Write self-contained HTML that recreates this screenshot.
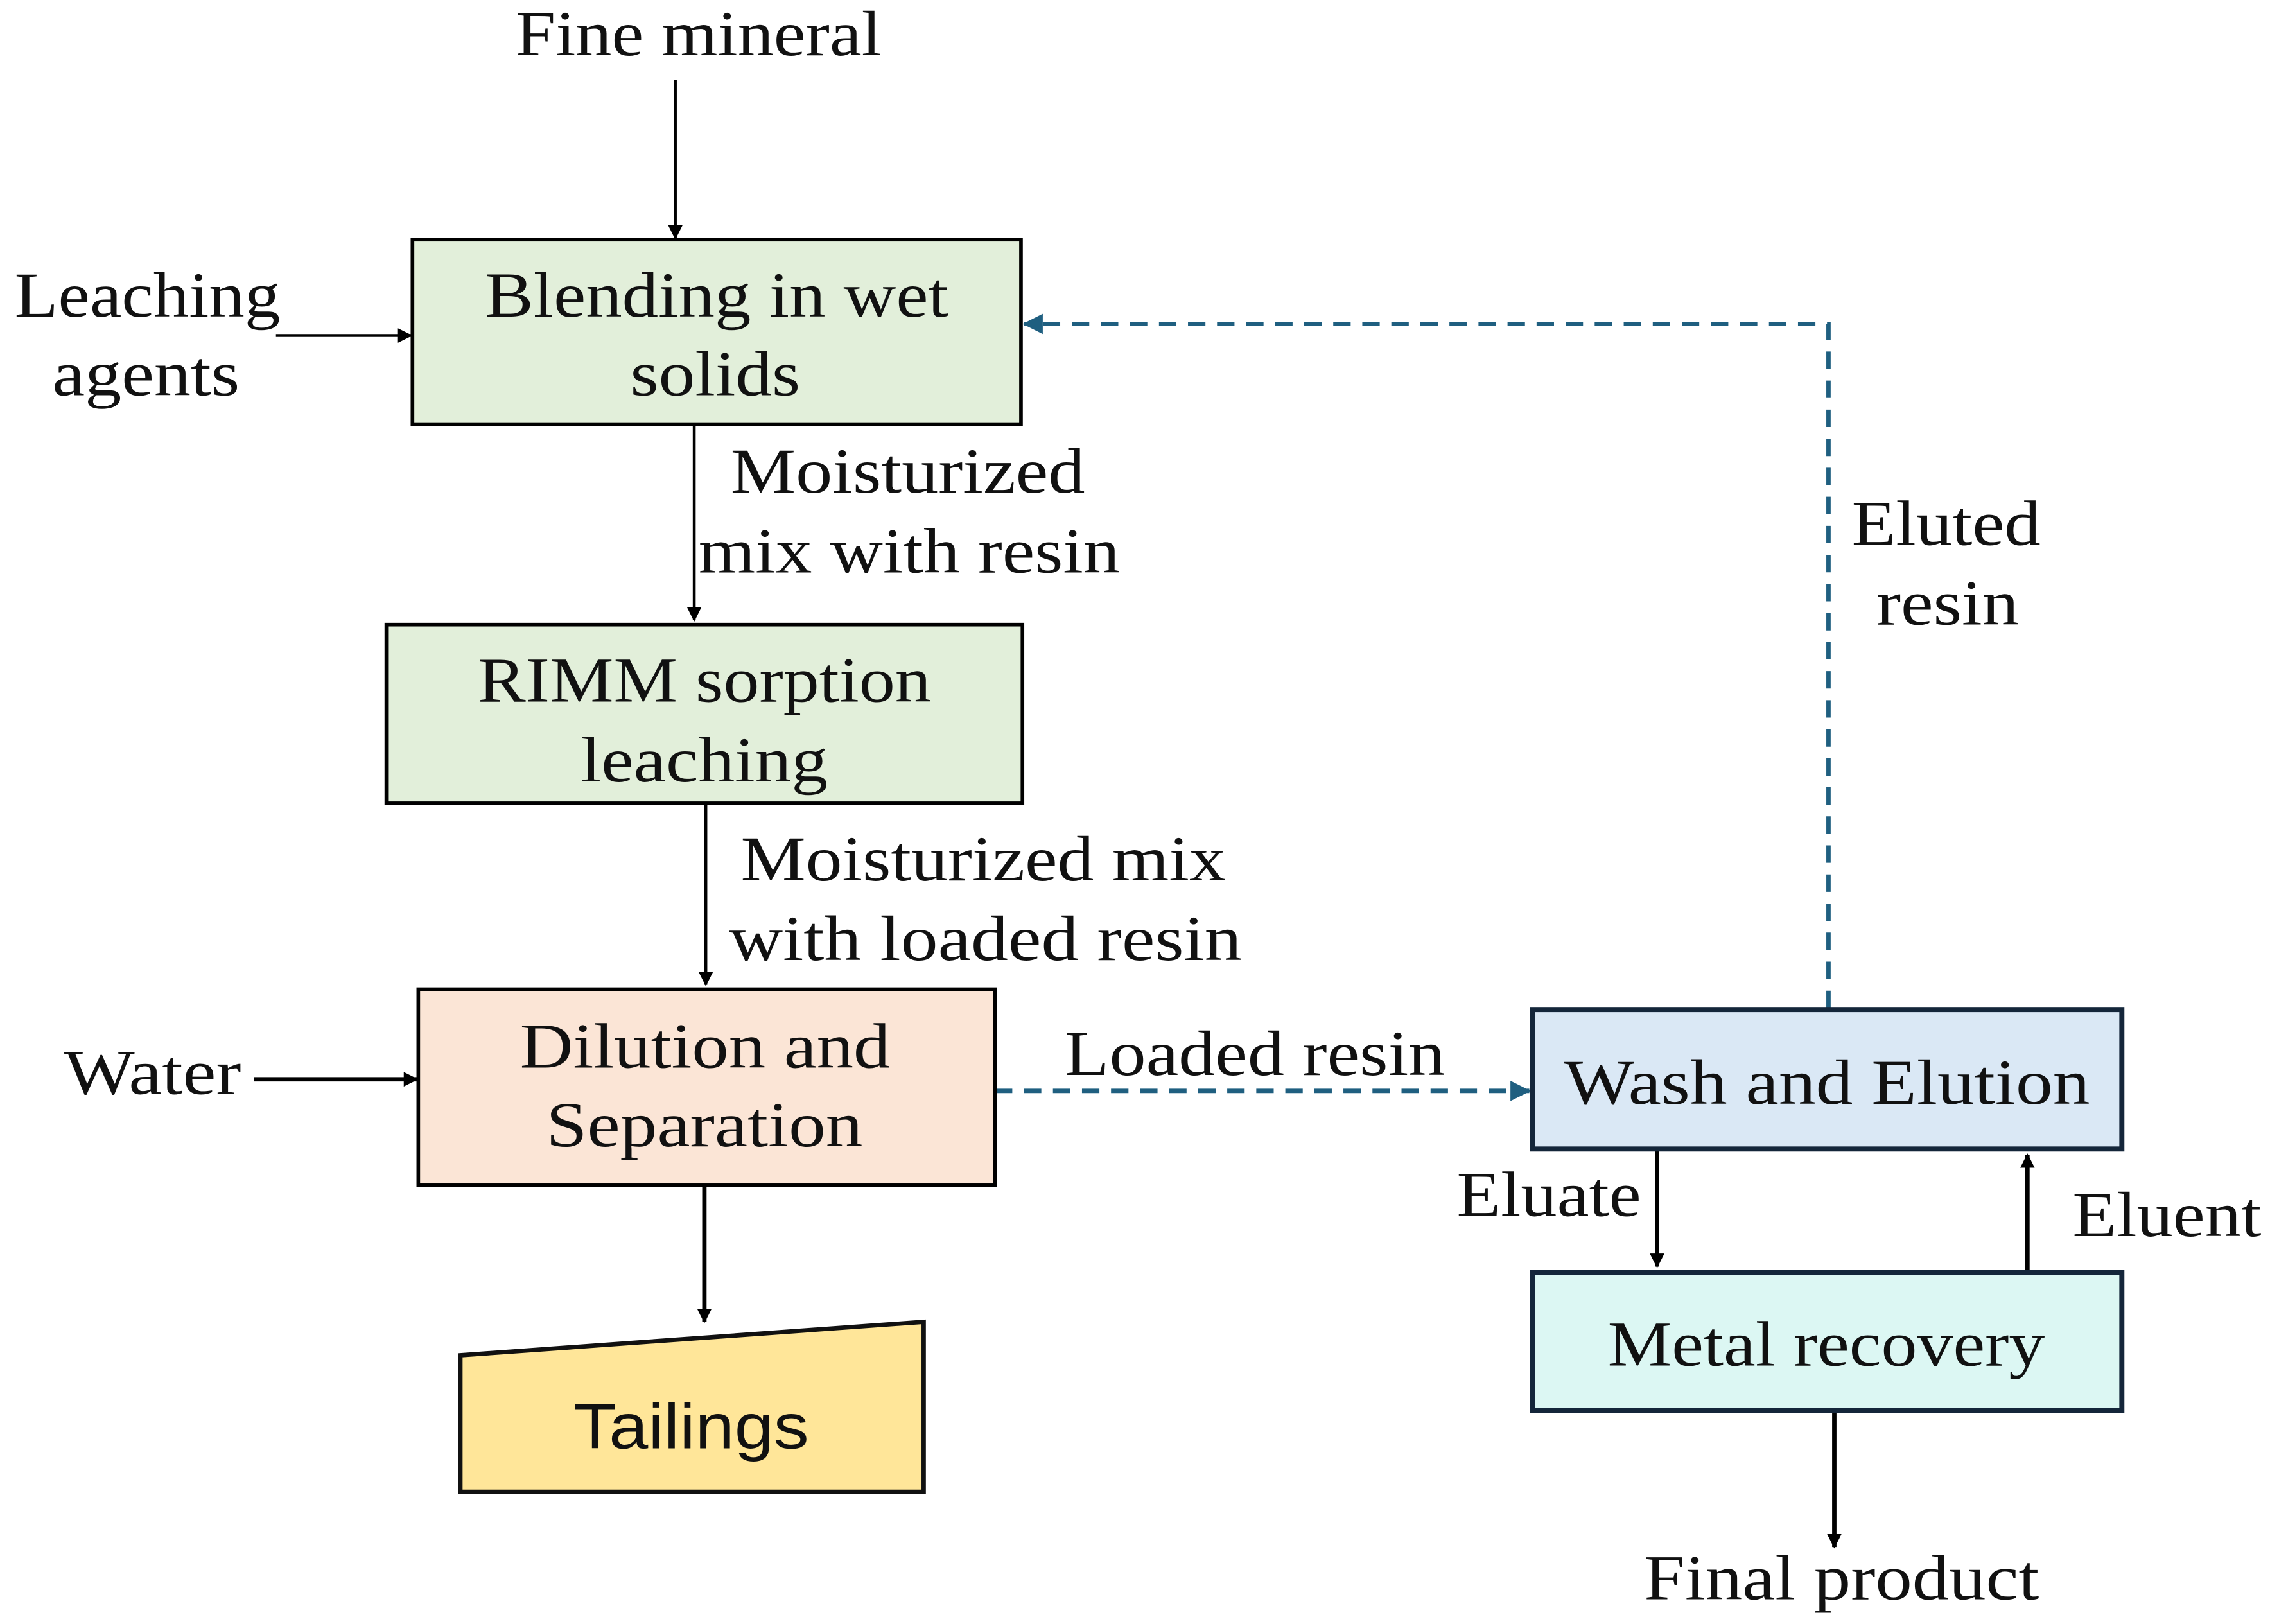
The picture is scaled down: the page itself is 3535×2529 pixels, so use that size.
<!DOCTYPE html>
<html><head><meta charset="utf-8"><style>
html,body{margin:0;padding:0;background:#fff;}
svg{display:block;}
text{font-family:"Liberation Serif",serif;font-size:44px;fill:#111;}
</style></head><body>
<svg width="3535" height="2529" viewBox="0 0 1563 1118" preserveAspectRatio="none" xmlns="http://www.w3.org/2000/svg">
<defs>
<marker id="a" markerWidth="10" markerHeight="10" refX="9" refY="5" orient="auto" markerUnits="userSpaceOnUse"><path d="M0,0 L10,5 L0,10 z" fill="#000"/></marker>
<marker id="b" markerWidth="14" markerHeight="14" refX="13" refY="7" orient="auto" markerUnits="userSpaceOnUse"><path d="M0,0 L14,7 L0,14 z" fill="#1f5f80"/></marker>
</defs>
<g stroke="#000" stroke-width="2" fill="none">
<line x1="465" y1="55" x2="465" y2="164" marker-end="url(#a)"/>
<line x1="190" y1="231" x2="283" y2="231" marker-end="url(#a)"/>
<line x1="478" y1="293" x2="478" y2="427" marker-end="url(#a)"/>
<line x1="486" y1="553" x2="486" y2="678" marker-end="url(#a)"/>
<line x1="175" y1="743" x2="287" y2="743" stroke-width="3" marker-end="url(#a)"/>
<line x1="485" y1="817" x2="485" y2="910" stroke-width="3" marker-end="url(#a)"/>
<line x1="1141" y1="792" x2="1141" y2="872" stroke-width="3" marker-end="url(#a)"/>
<line x1="1396" y1="876" x2="1396" y2="795" stroke-width="3" marker-end="url(#a)"/>
<line x1="1263" y1="972" x2="1263" y2="1065" stroke-width="3" marker-end="url(#a)"/>
</g>
<g stroke="#1f5f80" stroke-width="3" fill="none" stroke-dasharray="12,8">
<line x1="685" y1="751" x2="1053" y2="751" marker-end="url(#b)"/>
<polyline points="1259,694 1259,223 705,223" marker-end="url(#b)"/>
</g>
<rect x="284" y="165" width="419" height="127" fill="#e2efda" stroke="#000" stroke-width="2.5"/>
<rect x="266" y="430" width="438" height="123" fill="#e2efda" stroke="#000" stroke-width="2.5"/>
<rect x="288" y="681" width="397" height="135" fill="#fbe5d6" stroke="#000" stroke-width="2.5"/>
<polygon points="317,933 636,910 636,1027 317,1027" fill="#ffe699" stroke="#111" stroke-width="3"/>
<rect x="1055" y="695" width="406" height="96" fill="#dae8f5" stroke="#14263a" stroke-width="3.5"/>
<rect x="1055" y="876" width="406" height="95" fill="#dcf7f3" stroke="#14263a" stroke-width="3.5"/>
<g style="" >
<text x="355" y="38" textLength="252" lengthAdjust="spacingAndGlyphs">Fine mineral</text>
<text x="10" y="218" textLength="183" lengthAdjust="spacingAndGlyphs">Leaching</text>
<text x="36" y="272" textLength="129" lengthAdjust="spacingAndGlyphs">agents</text>
<text x="334" y="218" textLength="319" lengthAdjust="spacingAndGlyphs">Blending in wet</text>
<text x="434" y="272" textLength="117" lengthAdjust="spacingAndGlyphs">solids</text>
<text x="503" y="339" textLength="244" lengthAdjust="spacingAndGlyphs">Moisturized</text>
<text x="481" y="394" textLength="290" lengthAdjust="spacingAndGlyphs">mix with resin</text>
<text x="329" y="483" textLength="312" lengthAdjust="spacingAndGlyphs">RIMM sorption</text>
<text x="400" y="538" textLength="170" lengthAdjust="spacingAndGlyphs">leaching</text>
<text x="510" y="606" textLength="334" lengthAdjust="spacingAndGlyphs">Moisturized mix</text>
<text x="502" y="661" textLength="353" lengthAdjust="spacingAndGlyphs">with loaded resin</text>
<text x="44" y="753" textLength="122" lengthAdjust="spacingAndGlyphs">Water</text>
<text x="358" y="735" textLength="255" lengthAdjust="spacingAndGlyphs">Dilution and</text>
<text x="376" y="789" textLength="218" lengthAdjust="spacingAndGlyphs">Separation</text>
<text x="395" y="997" textLength="162" lengthAdjust="spacingAndGlyphs" style="font-family:'Liberation Sans',sans-serif;font-size:44px">Tailings</text>
<text x="733" y="740" textLength="262" lengthAdjust="spacingAndGlyphs">Loaded resin</text>
<text x="1077" y="760" textLength="362" lengthAdjust="spacingAndGlyphs">Wash and Elution</text>
<text x="1275" y="375" textLength="130" lengthAdjust="spacingAndGlyphs">Eluted</text>
<text x="1292" y="430" textLength="98" lengthAdjust="spacingAndGlyphs">resin</text>
<text x="1003" y="837" textLength="127" lengthAdjust="spacingAndGlyphs">Eluate</text>
<text x="1427" y="851" textLength="130" lengthAdjust="spacingAndGlyphs">Eluent</text>
<text x="1107" y="940" textLength="301" lengthAdjust="spacingAndGlyphs">Metal recovery</text>
<text x="1132" y="1101" textLength="272" lengthAdjust="spacingAndGlyphs">Final product</text>
</g>
</svg>
</body></html>
